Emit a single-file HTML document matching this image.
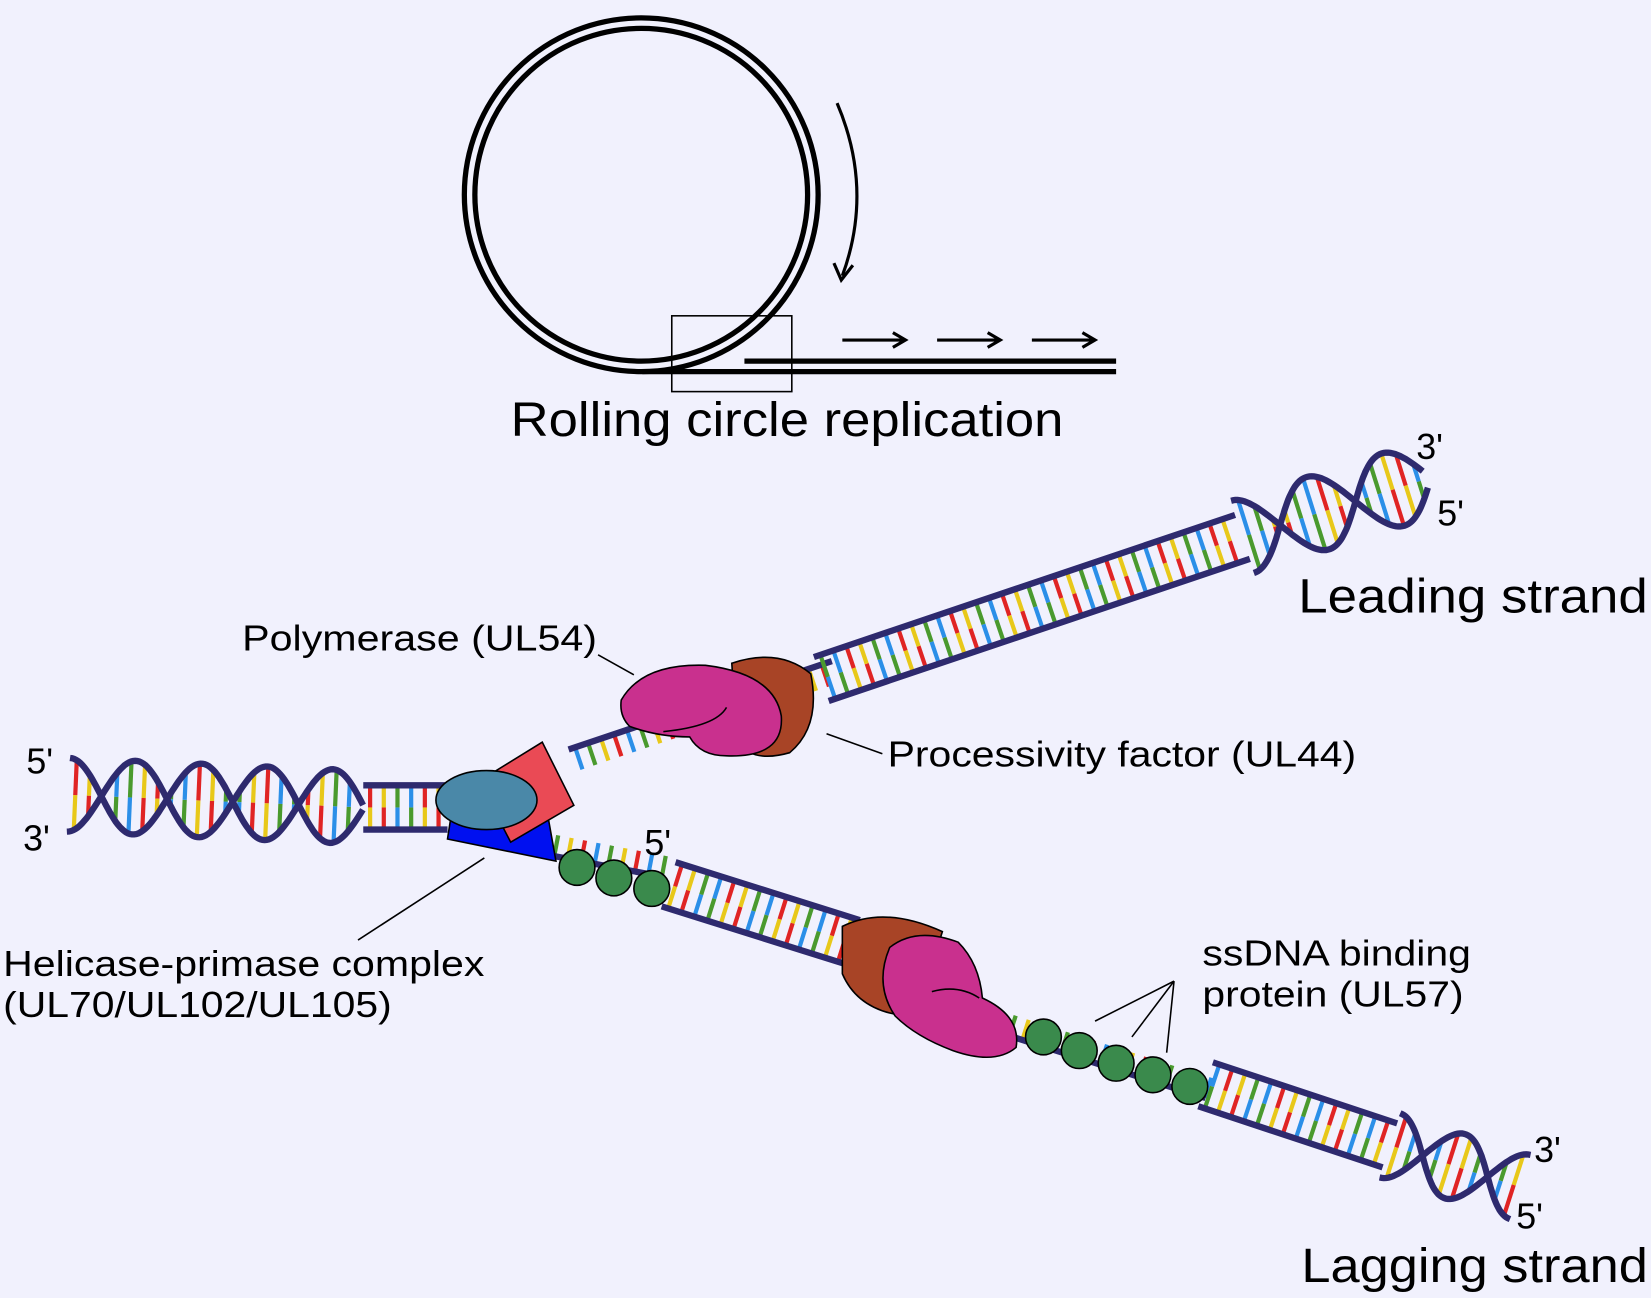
<!DOCTYPE html>
<html><head><meta charset="utf-8"><style>
html,body{margin:0;padding:0;background:#f1f1fd;}
svg{display:block;}
text{font-family:"Liberation Sans",Arial,sans-serif;fill:#000;}
</style></head><body>
<svg id="s" width="1651" height="1298" viewBox="0 0 1568 1233" preserveAspectRatio="none" xmlns="http://www.w3.org/2000/svg">
<rect x="0" y="0" width="1568" height="1233" fill="#f1f1fd"/>
<g id="dna"></g>
<circle cx="609" cy="185" r="168" fill="none" stroke="#000" stroke-width="5"/>
<circle cx="609" cy="185" r="158" fill="none" stroke="#000" stroke-width="5"/>
<path d="M610 353 L1060 353" stroke="#000" stroke-width="5"/>
<path d="M707 343 L1060 343" stroke="#000" stroke-width="5"/>
<path d="M795 98 Q830 180 800 262" stroke="#000" stroke-width="3" fill="none"/>
<path d="M792 250 L799 266 L810 252" stroke="#000" stroke-width="3" fill="none"/>
<rect x="638" y="300" width="114" height="72" fill="none" stroke="#000" stroke-width="1.5"/>
<g stroke="#000" stroke-width="3" fill="none">
<path d="M800 323 H858 M848 316 L860 323 L848 330"/>
<path d="M890 323 H948 M938 316 L950 323 L938 330"/>
<path d="M980 323 H1038 M1028 316 L1040 323 L1028 330"/>
</g>
<text x="485" y="414" font-size="46" textLength="525" lengthAdjust="spacingAndGlyphs">Rolling circle replication</text>
<g id="prot"></g>
<g font-size="34">
<text x="230" y="618" textLength="337" lengthAdjust="spacingAndGlyphs">Polymerase (UL54)</text>
<text x="843" y="728" textLength="445" lengthAdjust="spacingAndGlyphs">Processivity factor (UL44)</text>
<text x="3" y="927" textLength="457" lengthAdjust="spacingAndGlyphs">Helicase-primase complex</text>
<text x="3" y="966" textLength="369" lengthAdjust="spacingAndGlyphs">(UL70/UL102/UL105)</text>
<text x="1142" y="917" textLength="255" lengthAdjust="spacingAndGlyphs">ssDNA binding</text>
<text x="1142" y="956" textLength="248" lengthAdjust="spacingAndGlyphs">protein (UL57)</text>
<text x="25" y="735">5'</text>
<text x="22" y="808">3'</text>
<text x="1345" y="436">3'</text>
<text x="1365" y="499">5'</text>
<text x="612" y="812">5'</text>
<text x="1457" y="1104">3'</text>
<text x="1440" y="1167">5'</text>
</g>
<text x="1233" y="582" font-size="46" textLength="332" lengthAdjust="spacingAndGlyphs">Leading strand</text>
<text x="1236" y="1218" font-size="46" textLength="329" lengthAdjust="spacingAndGlyphs">Lagging strand</text>
<g stroke="#000" stroke-width="1.5">
<line x1="568" y1="622" x2="602" y2="641"/>
<line x1="785" y1="697" x2="838" y2="716"/>
<line x1="340" y1="893" x2="460" y2="815"/>
<line x1="1115" y1="932" x2="1040" y2="970"/>
<line x1="1115" y1="932" x2="1075" y2="985"/>
<line x1="1115" y1="932" x2="1108" y2="1000"/>
</g>
</svg>
<script>
const NS="http://www.w3.org/2000/svg";
const dna=document.getElementById('dna'),prot=document.getElementById('prot');
const C=["#e8c81a","#e02424","#2b8fe8","#4a9a2e"];
const NAVY="#2e2a6e";
function el(p,t,a){const e=document.createElementNS(NS,t);for(const k in a)e.setAttribute(k,a[k]);p.appendChild(e);return e;}
let ci=0;
function tick(x1,y1,x2,y2){const mx=(x1+x2)/2,my=(y1+y2)/2;const a=C[ci%4],b=C[(ci*3+1)%4];ci++;
el(dna,'line',{x1,y1,x2:mx,y2:my,stroke:a,'stroke-width':4});el(dna,'line',{x1:mx,y1:my,x2,y2,stroke:b,'stroke-width':4});}
function tick1(x1,y1,x2,y2){el(dna,'line',{x1,y1,x2,y2,stroke:C[ci%4],'stroke-width':4});ci++;}
function ladder(x1,y1,x2,y2,h,sp){const dx=x2-x1,dy=y2-y1,L=Math.hypot(dx,dy),ux=dx/L,uy=dy/L,nx=-uy,ny=ux;
for(let t=sp/2;t<L;t+=sp){const px=x1+ux*t,py=y1+uy*t;tick(px+nx*h,py+ny*h,px-nx*h,py-ny*h);}
el(dna,'line',{x1:x1+nx*h,y1:y1+ny*h,x2:x2+nx*h,y2:y2+ny*h,stroke:NAVY,'stroke-width':6});
el(dna,'line',{x1:x1-nx*h,y1:y1-ny*h,x2:x2-nx*h,y2:y2-ny*h,stroke:NAVY,'stroke-width':6});}
function ss(x1,y1,x2,y2,len,sp){const dx=x2-x1,dy=y2-y1,L=Math.hypot(dx,dy),ux=dx/L,uy=dy/L,nx=-uy,ny=ux;
for(let t=sp/2;t<L;t+=sp){const px=x1+ux*t,py=y1+uy*t;tick1(px,py,px+nx*len,py+ny*len);}
el(dna,'line',{x1,y1,x2,y2,stroke:NAVY,'stroke-width':6});}
function helix(x1,y1,x2,y2,A,P,ph,sp){const dx=x2-x1,dy=y2-y1,L=Math.hypot(dx,dy),ux=dx/L,uy=dy/L,nx=-uy,ny=ux;
for(let t=sp/2;t<L;t+=sp){const o=A*Math.sin(2*Math.PI*t/P+ph);if(Math.abs(o)<6)continue;const px=x1+ux*t,py=y1+uy*t;tick(px+nx*o,py+ny*o,px-nx*o,py-ny*o);}
for(const s of [1,-1]){let d="";for(let t=0;t<=L;t+=2){const o=s*A*Math.sin(2*Math.PI*t/P+ph);const px=x1+ux*t+nx*o,py=y1+uy*t+ny*o;d+=(d?"L":"M")+px.toFixed(1)+" "+py.toFixed(1);}
el(dna,'path',{d,fill:'none',stroke:NAVY,'stroke-width':6});}}
helix(65,755,345,767,35,125,Math.PI/2,13);
ladder(345,767,425,767,21,13);
ss(540,712,790,628,22,13);
ladder(780,645,1180,510,22,13);
helix(1180,510,1355,455,36,150,-Math.PI/2,13);
ss(520,812,630,833,-20,13);
ladder(635,840,810,895,22,13);
ss(940,978,1145,1043,-20,13);
ladder(1145,1030,1320,1088,22,13);
helix(1320,1088,1445,1128,32,130,-Math.PI/2,13);
for(const [x,y] of [[548,824],[583,834],[619,844],[991,985],[1025,998],[1060,1010],[1095,1021],[1130,1032]])
el(prot,'circle',{cx:x,cy:y,r:17,fill:'#3a8a4c',stroke:'#000','stroke-width':1.5});
el(prot,'path',{d:'M430 765 L518 762 L528 818 L425 797 Z',fill:'#0010f0',stroke:'#000','stroke-width':1.5});
el(prot,'path',{d:'M455 742 L515 705 L545 765 L485 800 Z',fill:'#ea4a55',stroke:'#000','stroke-width':1.5});
el(prot,'ellipse',{cx:462,cy:760,rx:48,ry:28,fill:'#4a88a8',stroke:'#000','stroke-width':1.5});
el(prot,'path',{d:'M695 630 Q740 615 770 640 Q780 690 750 715 Q715 725 700 705 Z',fill:'#a84426',stroke:'#000','stroke-width':1.5});
el(prot,'path',{d:'M590 665 Q610 630 670 632 Q735 640 742 680 Q745 720 690 718 Q665 718 655 700 Q625 700 598 690 Q588 680 590 665 Z',fill:'#c9308e',stroke:'#000','stroke-width':1.5});
el(prot,'path',{d:'M630 695 Q680 690 690 672',fill:'none',stroke:'#000','stroke-width':1.5});
el(prot,'path',{d:'M800 880 Q840 860 895 885 Q880 935 860 965 Q815 960 800 925 Z',fill:'#a84426',stroke:'#000','stroke-width':1.5});
el(prot,'path',{d:'M845 900 Q870 880 910 895 Q930 915 933 948 Q970 965 965 995 Q945 1012 905 998 Q870 985 850 965 Q830 935 845 900 Z',fill:'#c9308e',stroke:'#000','stroke-width':1.5});
el(prot,'path',{d:'M885 942 Q910 935 930 948',fill:'none',stroke:'#000','stroke-width':1.5});
</script>
</body></html>
